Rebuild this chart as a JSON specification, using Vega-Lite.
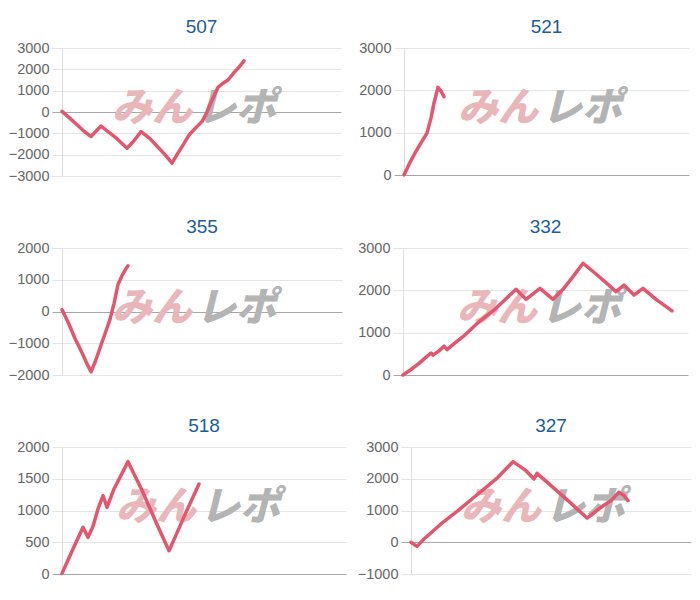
{
  "$schema": "https://vega.github.io/schema/vega-lite/v6.json",
  "background": "white",
  "padding": {"left": 8, "top": 18, "right": 5, "bottom": 5},
  "data": {"values": [
      {"chart": "507", "x": 0, "y": 30}, {"chart": "507", "x": 8, "y": -300}, {"chart": "507", "x": 15, "y": -600}, {"chart": "507", "x": 22, "y": -900}, {"chart": "507", "x": 29, "y": -1150}, {"chart": "507", "x": 33, "y": -950}, {"chart": "507", "x": 39, "y": -660}, {"chart": "507", "x": 47, "y": -950}, {"chart": "507", "x": 55, "y": -1250}, {"chart": "507", "x": 65, "y": -1700}, {"chart": "507", "x": 72, "y": -1350}, {"chart": "507", "x": 79, "y": -920}, {"chart": "507", "x": 88, "y": -1250}, {"chart": "507", "x": 96, "y": -1650}, {"chart": "507", "x": 103, "y": -2000}, {"chart": "507", "x": 110, "y": -2400}, {"chart": "507", "x": 115, "y": -2000}, {"chart": "507", "x": 121, "y": -1550}, {"chart": "507", "x": 127, "y": -1080}, {"chart": "507", "x": 133, "y": -780}, {"chart": "507", "x": 140, "y": -450}, {"chart": "507", "x": 144, "y": -100}, {"chart": "507", "x": 148, "y": 350}, {"chart": "507", "x": 152, "y": 750}, {"chart": "507", "x": 156, "y": 1160}, {"chart": "507", "x": 161, "y": 1350}, {"chart": "507", "x": 166, "y": 1500}, {"chart": "507", "x": 172, "y": 1850}, {"chart": "507", "x": 177, "y": 2100}, {"chart": "507", "x": 182, "y": 2400},
      {"chart": "521", "x": 0, "y": 0}, {"chart": "521", "x": 5, "y": 250}, {"chart": "521", "x": 11, "y": 520}, {"chart": "521", "x": 17, "y": 760}, {"chart": "521", "x": 23, "y": 990}, {"chart": "521", "x": 27, "y": 1350}, {"chart": "521", "x": 30, "y": 1700}, {"chart": "521", "x": 34, "y": 2070}, {"chart": "521", "x": 37, "y": 1980}, {"chart": "521", "x": 40, "y": 1850},
      {"chart": "355", "x": 0, "y": 60}, {"chart": "355", "x": 7, "y": -400}, {"chart": "355", "x": 13, "y": -850}, {"chart": "355", "x": 20, "y": -1300}, {"chart": "355", "x": 25, "y": -1650}, {"chart": "355", "x": 29, "y": -1900}, {"chart": "355", "x": 33, "y": -1600}, {"chart": "355", "x": 38, "y": -1150}, {"chart": "355", "x": 43, "y": -700}, {"chart": "355", "x": 48, "y": -250}, {"chart": "355", "x": 52, "y": 250}, {"chart": "355", "x": 56, "y": 850}, {"chart": "355", "x": 60, "y": 1130}, {"chart": "355", "x": 64, "y": 1350}, {"chart": "355", "x": 66, "y": 1440},
      {"chart": "332", "x": 0, "y": 0}, {"chart": "332", "x": 8, "y": 130}, {"chart": "332", "x": 16, "y": 276}, {"chart": "332", "x": 22, "y": 400}, {"chart": "332", "x": 28, "y": 520}, {"chart": "332", "x": 30, "y": 470}, {"chart": "332", "x": 36, "y": 570}, {"chart": "332", "x": 41, "y": 680}, {"chart": "332", "x": 44, "y": 600}, {"chart": "332", "x": 52, "y": 760}, {"chart": "332", "x": 60, "y": 905}, {"chart": "332", "x": 68, "y": 1080}, {"chart": "332", "x": 76, "y": 1260}, {"chart": "332", "x": 85, "y": 1420}, {"chart": "332", "x": 93, "y": 1575}, {"chart": "332", "x": 103, "y": 1800}, {"chart": "332", "x": 113, "y": 2024}, {"chart": "332", "x": 123, "y": 1787}, {"chart": "332", "x": 137, "y": 2047}, {"chart": "332", "x": 150, "y": 1787}, {"chart": "332", "x": 160, "y": 2024}, {"chart": "332", "x": 170, "y": 2323}, {"chart": "332", "x": 180, "y": 2640}, {"chart": "332", "x": 193, "y": 2386}, {"chart": "332", "x": 203, "y": 2181}, {"chart": "332", "x": 213, "y": 1969}, {"chart": "332", "x": 221, "y": 2126}, {"chart": "332", "x": 231, "y": 1890}, {"chart": "332", "x": 240, "y": 2047}, {"chart": "332", "x": 253, "y": 1787}, {"chart": "332", "x": 269, "y": 1515},
      {"chart": "518", "x": 0, "y": 10}, {"chart": "518", "x": 11, "y": 394}, {"chart": "518", "x": 21, "y": 735}, {"chart": "518", "x": 26, "y": 577}, {"chart": "518", "x": 31, "y": 751}, {"chart": "518", "x": 36, "y": 1024}, {"chart": "518", "x": 41, "y": 1234}, {"chart": "518", "x": 45, "y": 1050}, {"chart": "518", "x": 52, "y": 1339}, {"chart": "518", "x": 66, "y": 1769}, {"chart": "518", "x": 81, "y": 1286}, {"chart": "518", "x": 94, "y": 814}, {"chart": "518", "x": 107, "y": 367}, {"chart": "518", "x": 113, "y": 577}, {"chart": "518", "x": 124, "y": 971}, {"chart": "518", "x": 137, "y": 1417},
      {"chart": "327", "x": 0, "y": 0}, {"chart": "327", "x": 6, "y": -130}, {"chart": "327", "x": 13, "y": 102}, {"chart": "327", "x": 30, "y": 575}, {"chart": "327", "x": 47, "y": 995}, {"chart": "327", "x": 67, "y": 1520}, {"chart": "327", "x": 87, "y": 2045}, {"chart": "327", "x": 102, "y": 2538}, {"chart": "327", "x": 115, "y": 2254}, {"chart": "327", "x": 123, "y": 1992}, {"chart": "327", "x": 126, "y": 2170}, {"chart": "327", "x": 140, "y": 1782}, {"chart": "327", "x": 157, "y": 1310}, {"chart": "327", "x": 176, "y": 763}, {"chart": "327", "x": 190, "y": 1100}, {"chart": "327", "x": 200, "y": 1310}, {"chart": "327", "x": 208, "y": 1573}, {"chart": "327", "x": 213, "y": 1467}, {"chart": "327", "x": 217, "y": 1310}
  ]},
  "config": {
    "view": {"stroke": null},
    "font": "Liberation Sans",
    "title": {"fontSize": 19, "fontWeight": "normal", "color": "#1a5d9d", "font": "Liberation Sans", "offset": 3},
    "axis": {
      "labelFontSize": 14.5, "labelColor": "#666666", "labelFont": "Liberation Sans", "labelPadding": 3, "format": "d",
      "tickSize": 10, "domainColor": "#dddddd", "gridColor": "#e4e4e4", "tickColor": "#e4e4e4"
    },
    "line": {"color": "#e4566e", "strokeWidth": 3.5, "strokeJoin": "round", "strokeCap": "round"},
    "text": {"font": "Noto Sans CJK JP", "fontWeight": 900, "fontStyle": "italic", "fontSize": 40, "baseline": "middle"}
  },
  "vconcat": [
    {"hconcat": [
      {"title": "507", "width": 279, "height": 128,
       "encoding": {"x": {"field": "x", "type": "quantitative", "scale": {"domain": [0, 279], "nice": false}, "axis": null},
                    "y": {"field": "y", "type": "quantitative", "scale": {"domain": [-3000, 3000], "nice": false, "zero": false}, "axis": {"title": null, "format": "d", "values": [-3000, -2000, -1000, 0, 1000, 2000, 3000], "gridColor": {"condition": {"test": "datum.value === 0", "value": "#a8a8a8"}, "value": "#e4e4e4"}, "tickColor": {"condition": {"test": "datum.value === 0", "value": "#a8a8a8"}, "value": "#e4e4e4"}}}},
       "layer": [
        {"data": {"values": [{"label": "みん", "px": 130, "py": 140}]}, "mark": {"type": "text", "align": "right", "color": "#e9b6ba"}, "encoding": {"x": {"field": "px", "type": "quantitative"}, "y": {"field": "py", "type": "quantitative"}, "text": {"field": "label"}}},
        {"data": {"values": [{"label": "レポ", "px": 134, "py": 140}]}, "mark": {"type": "text", "align": "left", "color": "#b4b4b4"}, "encoding": {"x": {"field": "px", "type": "quantitative"}, "y": {"field": "py", "type": "quantitative"}, "text": {"field": "label"}}},
        {"transform": [{"filter": "datum.chart === '507'"}], "mark": "line"}
      ]},
      {"title": "521", "width": 285, "height": 127,
       "encoding": {"x": {"field": "x", "type": "quantitative", "scale": {"domain": [0, 285], "nice": false}, "axis": null},
                    "y": {"field": "y", "type": "quantitative", "scale": {"domain": [0, 3000], "nice": false}, "axis": {"title": null, "format": "d", "values": [0, 1000, 2000, 3000], "gridColor": {"condition": {"test": "datum.value === 0", "value": "#a8a8a8"}, "value": "#e4e4e4"}, "tickColor": {"condition": {"test": "datum.value === 0", "value": "#a8a8a8"}, "value": "#e4e4e4"}}}},
       "layer": [
        {"data": {"values": [{"label": "みん", "px": 134, "py": 1570}]}, "mark": {"type": "text", "align": "right", "color": "#e9b6ba"}, "encoding": {"x": {"field": "px", "type": "quantitative"}, "y": {"field": "py", "type": "quantitative"}, "text": {"field": "label"}}},
        {"data": {"values": [{"label": "レポ", "px": 138, "py": 1570}]}, "mark": {"type": "text", "align": "left", "color": "#b4b4b4"}, "encoding": {"x": {"field": "px", "type": "quantitative"}, "y": {"field": "py", "type": "quantitative"}, "text": {"field": "label"}}},
        {"transform": [{"filter": "datum.chart === '521'"}], "mark": "line"}
      ]}
    ], "spacing": 17},
    {"hconcat": [
      {"title": "355", "width": 280, "height": 127,
       "encoding": {"x": {"field": "x", "type": "quantitative", "scale": {"domain": [0, 280], "nice": false}, "axis": null},
                    "y": {"field": "y", "type": "quantitative", "scale": {"domain": [-2000, 2000], "nice": false, "zero": false}, "axis": {"title": null, "format": "d", "values": [-2000, -1000, 0, 1000, 2000], "gridColor": {"condition": {"test": "datum.value === 0", "value": "#a8a8a8"}, "value": "#e4e4e4"}, "tickColor": {"condition": {"test": "datum.value === 0", "value": "#a8a8a8"}, "value": "#e4e4e4"}}}},
       "layer": [
        {"data": {"values": [{"label": "みん", "px": 130, "py": 90}]}, "mark": {"type": "text", "align": "right", "color": "#e9b6ba"}, "encoding": {"x": {"field": "px", "type": "quantitative"}, "y": {"field": "py", "type": "quantitative"}, "text": {"field": "label"}}},
        {"data": {"values": [{"label": "レポ", "px": 134, "py": 90}]}, "mark": {"type": "text", "align": "left", "color": "#b4b4b4"}, "encoding": {"x": {"field": "px", "type": "quantitative"}, "y": {"field": "py", "type": "quantitative"}, "text": {"field": "label"}}},
        {"transform": [{"filter": "datum.chart === '355'"}], "mark": "line"}
      ]},
      {"title": "332", "width": 285, "height": 127,
       "encoding": {"x": {"field": "x", "type": "quantitative", "scale": {"domain": [0, 285], "nice": false}, "axis": null},
                    "y": {"field": "y", "type": "quantitative", "scale": {"domain": [0, 3000], "nice": false}, "axis": {"title": null, "format": "d", "values": [0, 1000, 2000, 3000], "gridColor": {"condition": {"test": "datum.value === 0", "value": "#a8a8a8"}, "value": "#e4e4e4"}, "tickColor": {"condition": {"test": "datum.value === 0", "value": "#a8a8a8"}, "value": "#e4e4e4"}}}},
       "layer": [
        {"data": {"values": [{"label": "みん", "px": 134, "py": 1570}]}, "mark": {"type": "text", "align": "right", "color": "#e9b6ba"}, "encoding": {"x": {"field": "px", "type": "quantitative"}, "y": {"field": "py", "type": "quantitative"}, "text": {"field": "label"}}},
        {"data": {"values": [{"label": "レポ", "px": 138, "py": 1570}]}, "mark": {"type": "text", "align": "left", "color": "#b4b4b4"}, "encoding": {"x": {"field": "px", "type": "quantitative"}, "y": {"field": "py", "type": "quantitative"}, "text": {"field": "label"}}},
        {"transform": [{"filter": "datum.chart === '332'"}], "mark": "line"}
      ]}
    ], "spacing": 15},
    {"hconcat": [
      {"title": "518", "width": 284, "height": 127,
       "encoding": {"x": {"field": "x", "type": "quantitative", "scale": {"domain": [0, 284], "nice": false}, "axis": null},
                    "y": {"field": "y", "type": "quantitative", "scale": {"domain": [0, 2000], "nice": false}, "axis": {"title": null, "format": "d", "values": [0, 500, 1000, 1500, 2000], "gridColor": {"condition": {"test": "datum.value === 0", "value": "#a8a8a8"}, "value": "#e4e4e4"}, "tickColor": {"condition": {"test": "datum.value === 0", "value": "#a8a8a8"}, "value": "#e4e4e4"}}}},
       "layer": [
        {"data": {"values": [{"label": "みん", "px": 134, "py": 1045}]}, "mark": {"type": "text", "align": "right", "color": "#e9b6ba"}, "encoding": {"x": {"field": "px", "type": "quantitative"}, "y": {"field": "py", "type": "quantitative"}, "text": {"field": "label"}}},
        {"data": {"values": [{"label": "レポ", "px": 138, "py": 1045}]}, "mark": {"type": "text", "align": "left", "color": "#b4b4b4"}, "encoding": {"x": {"field": "px", "type": "quantitative"}, "y": {"field": "py", "type": "quantitative"}, "text": {"field": "label"}}},
        {"transform": [{"filter": "datum.chart === '518'"}], "mark": "line"}
      ]},
      {"title": "327", "width": 280, "height": 127,
       "encoding": {"x": {"field": "x", "type": "quantitative", "scale": {"domain": [0, 280], "nice": false}, "axis": null},
                    "y": {"field": "y", "type": "quantitative", "scale": {"domain": [-1000, 3000], "nice": false, "zero": false}, "axis": {"title": null, "format": "d", "values": [-1000, 0, 1000, 2000, 3000], "gridColor": {"condition": {"test": "datum.value === 0", "value": "#a8a8a8"}, "value": "#e4e4e4"}, "tickColor": {"condition": {"test": "datum.value === 0", "value": "#a8a8a8"}, "value": "#e4e4e4"}}}},
       "layer": [
        {"data": {"values": [{"label": "みん", "px": 130, "py": 1090}]}, "mark": {"type": "text", "align": "right", "color": "#e9b6ba"}, "encoding": {"x": {"field": "px", "type": "quantitative"}, "y": {"field": "py", "type": "quantitative"}, "text": {"field": "label"}}},
        {"data": {"values": [{"label": "レポ", "px": 134, "py": 1090}]}, "mark": {"type": "text", "align": "left", "color": "#b4b4b4"}, "encoding": {"x": {"field": "px", "type": "quantitative"}, "y": {"field": "py", "type": "quantitative"}, "text": {"field": "label"}}},
        {"transform": [{"filter": "datum.chart === '327'"}], "mark": "line"}
      ]}
    ], "spacing": 11}
  ],
  "spacing": 35
}
